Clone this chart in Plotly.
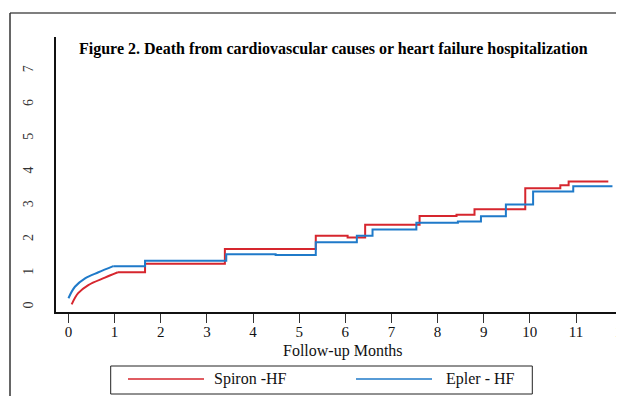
import plotly.graph_objects as go

# ---- data ----
months_ticks = list(range(0, 13))
y_ticks = list(range(0, 8))

# early smooth part of each curve
epler_curve_x = [0.0, 0.14, 0.36, 0.65, 0.97]
epler_curve_y = [0.26, 0.60, 0.85, 1.03, 1.21]
spiron_curve_x = [0.07, 0.21, 0.43, 0.79, 1.07]
spiron_curve_y = [0.08, 0.41, 0.65, 0.87, 1.03]

# step part (value holds until next x)
epler_step_x = [0.97, 1.66, 3.42, 4.49, 5.36, 6.25, 6.59, 7.54, 8.44, 8.94, 9.48, 10.07, 10.94, 11.79]
epler_step_y = [1.21, 1.37, 1.56, 1.54, 1.92, 2.11, 2.30, 2.50, 2.53, 2.69, 3.04, 3.42, 3.58, 3.58]
spiron_step_x = [1.07, 1.66, 3.39, 5.36, 6.05, 6.43, 7.61, 8.41, 8.80, 9.90, 10.66, 10.84, 11.70]
spiron_step_y = [1.03, 1.28, 1.72, 2.11, 2.06, 2.44, 2.70, 2.73, 2.90, 3.52, 3.61, 3.72, 3.72]

series_names = ["Spiron -HF", "Epler - HF"]
RED = "#D6262E"
BLUE = "#1F7AC9"
SERIF = "Liberation Serif"

fig = go.Figure()
fig.add_trace(go.Scatter(x=spiron_curve_x, y=spiron_curve_y, mode="lines",
                         line=dict(color=RED, width=2, shape="spline"), showlegend=False))
fig.add_trace(go.Scatter(x=spiron_step_x, y=spiron_step_y, mode="lines",
                         line=dict(color=RED, width=2, shape="hv"), showlegend=False))
fig.add_trace(go.Scatter(x=epler_curve_x, y=epler_curve_y, mode="lines",
                         line=dict(color=BLUE, width=2, shape="spline"), showlegend=False))
fig.add_trace(go.Scatter(x=epler_step_x, y=epler_step_y, mode="lines",
                         line=dict(color=BLUE, width=2, shape="hv"), showlegend=False))

# page body has an 8px margin: design in window pixels, shift the figure by -8
OFF = 8
PLOT_L, PLOT_T, PLOT_B, PLOT_R = 56, 37, 312, 624   # plot area in window pixels
W, H = 624 - OFF, 396 - OFF
ML, MT = PLOT_L - OFF, PLOT_T - OFF
MB = H - (PLOT_B - OFF)
PW = PLOT_R - PLOT_L
PH = PLOT_B - PLOT_T


def px(xp):
    return (xp - PLOT_L) / PW


def py(yp):
    return (PLOT_B - yp) / PH


fig.update_layout(
    width=W, height=H,
    margin=dict(l=ML, r=0, t=MT, b=MB, autoexpand=False),
    paper_bgcolor="white", plot_bgcolor="white",
    showlegend=False,
    font=dict(family=SERIF, color="#111", size=15),
    xaxis=dict(range=[-0.27, 12.04], tickvals=months_ticks,
               ticktext=[str(v) for v in months_ticks], automargin=False,
               showgrid=False, zeroline=False, showline=True, linecolor="#111", linewidth=1.5,
               ticks="outside", ticklen=9, tickwidth=1, tickcolor="#333",
               ticklabelstandoff=-4, ticklabeloverflow="allow",
               tickfont=dict(family=SERIF, size=15, color="#111")),
    yaxis=dict(range=[-0.148, 8.0], tickvals=y_ticks,
               ticktext=[str(v) for v in y_ticks], automargin=False,
               showgrid=False, zeroline=False, showline=True, linecolor="#111", linewidth=1.5,
               ticks="", tickangle=-90, ticklabelstandoff=16,
               tickfont=dict(family=SERIF, size=14, color="#333")),
)

shapes = []
# outer frame (top and left)
shapes.append(dict(type="line", xref="paper", yref="paper", x0=px(10), x1=px(630), y0=py(13), y1=py(13),
                   line=dict(color="#555", width=1.5)))
shapes.append(dict(type="line", xref="paper", yref="paper", x0=px(10), x1=px(10), y0=py(13), y1=py(400),
                   line=dict(color="#333", width=1.5)))
# legend box
shapes.append(dict(type="rect", xref="paper", yref="paper", x0=px(110.7), x1=px(532.3), y0=py(366), y1=py(394),
                   line=dict(color="#222", width=1), fillcolor="white"))
shapes.append(dict(type="line", xref="paper", yref="paper", x0=px(128), x1=px(204), y0=py(379), y1=py(379),
                   line=dict(color=RED, width=1.5)))
shapes.append(dict(type="line", xref="paper", yref="paper", x0=px(356), x1=px(432), y0=py(379), y1=py(379),
                   line=dict(color=BLUE, width=1.5)))
fig.update_layout(shapes=shapes)

annotations = [
    dict(text="<b>Figure 2. Death from cardiovascular causes or heart failure hospitalization</b>",
         xref="paper", yref="paper", x=px(333), y=py(49), xanchor="center", yanchor="middle",
         showarrow=False, font=dict(family=SERIF, size=16, color="#000")),
    dict(text="Follow-up Months", xref="paper", yref="paper", x=px(343), y=py(351),
         xanchor="center", yanchor="middle", showarrow=False,
         font=dict(family=SERIF, size=16, color="#111")),
    dict(text=series_names[0], xref="paper", yref="paper", x=px(212), y=py(379),
         xanchor="left", yanchor="middle", showarrow=False,
         font=dict(family=SERIF, size=16, color="#111")),
    dict(text=series_names[1], xref="paper", yref="paper", x=px(444), y=py(379),
         xanchor="left", yanchor="middle", showarrow=False,
         font=dict(family=SERIF, size=16, color="#111")),
]
fig.update_layout(annotations=annotations)

fig.write_html("out.html")
